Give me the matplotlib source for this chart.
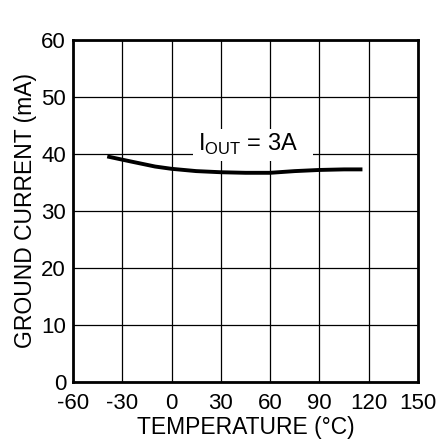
import matplotlib.pyplot as plt
from matplotlib.patches import Rectangle

plt.rcParams['font.family'] = ['Liberation Sans', 'DejaVu Sans']
plt.rcParams['axes.unicode_minus'] = False
plt.rcParams['mathtext.fontset'] = 'custom'
plt.rcParams['mathtext.rm'] = 'Liberation Sans'

# data
temp = [-38, -25, -10, 0, 15, 30, 45, 60, 75, 90, 105, 115]
ground_current = [39.5, 38.7, 37.8, 37.4, 37.0, 36.8, 36.7, 36.7, 37.0, 37.2, 37.3, 37.3]

xticks = [-60, -30, 0, 30, 60, 90, 120, 150]
yticks = [0, 10, 20, 30, 40, 50, 60]


def main():
    fig = plt.figure(figsize=(4.43, 4.48), dpi=100)
    ax = fig.add_axes([73 / 443, 66 / 448, 345 / 443, 342 / 448])

    ax.plot(temp, ground_current, color='black', linewidth=2.8, zorder=3)
    ax.set_xlim(-60, 150)
    ax.set_ylim(0, 60)
    ax.set_xticks(xticks)
    ax.set_yticks(yticks)
    ax.grid(True, color='black', linewidth=0.9)
    ax.tick_params(length=0, labelsize=16)
    ax.tick_params(axis='x', pad=8)
    ax.tick_params(axis='y', pad=5)
    for s in ax.spines.values():
        s.set_linewidth(2)

    # white patch behind the label, hiding the grid
    ax.add_patch(Rectangle((13, 38.8), 73, 5.6, facecolor='white',
                           edgecolor='none', zorder=2.5))
    ax.text(16, 40.6, r'I$_{\mathregular{OUT}}$ = 3A', fontsize=17,
            ha='left', va='baseline', zorder=4)

    ax.set_xlabel('TEMPERATURE (°C)', fontsize=16.5, labelpad=1)
    ax.set_ylabel('GROUND CURRENT (mA)', fontsize=16.5, labelpad=3)

    fig.savefig('out.png', dpi=100)


if __name__ == "__main__":
    main()
